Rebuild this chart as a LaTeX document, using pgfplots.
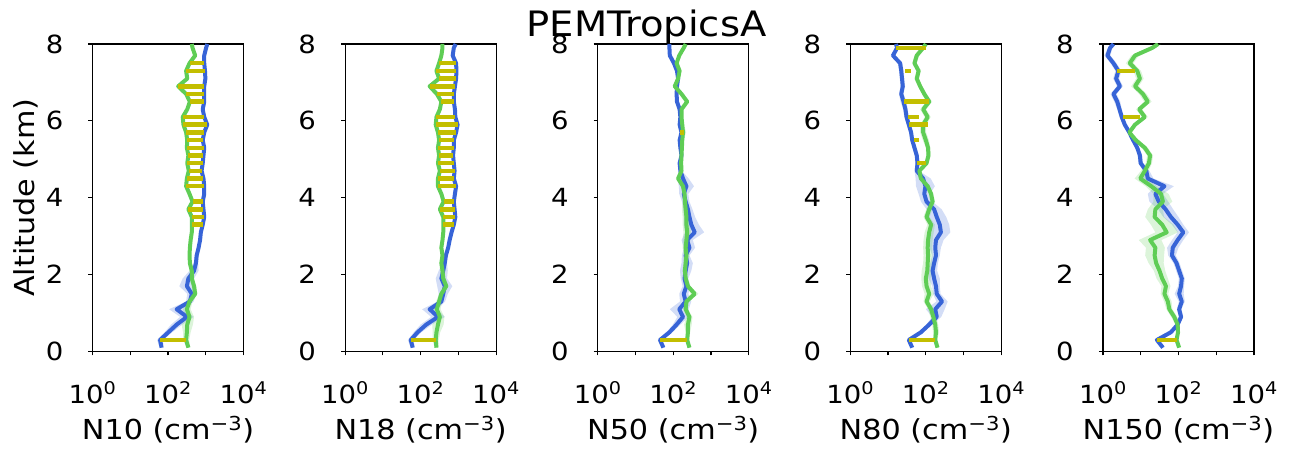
\documentclass[border=0pt]{standalone}
\usepackage{fontspec}
\setmainfont{DejaVu Sans}[FakeStretch=1.1]
\usepackage{pgfplots}
\usepackage{pgfplotstable}
\pgfplotsset{compat=1.18}

\definecolor{cblue}{RGB}{55,100,215}
\definecolor{cgreen}{RGB}{95,205,85}
\definecolor{cyel}{RGB}{195,190,0}

% columns: altitude (km), log10 of blue value, blue spread, log10 of green value, green spread
\pgfplotstableread{
alt b bs g gs
8.0 3.04 .03 2.63 .03
7.9 3.01 .03 2.65 .03
7.7 2.96 .03 2.72 .04
7.5 2.96 .03 2.57 .04
7.3 2.98 .03 2.48 .05
7.1 2.99 .03 2.51 .05
6.9 2.96 .04 2.27 .05
6.7 2.96 .03 2.48 .04
6.5 2.96 .03 2.58 .03
6.3 2.92 .03 2.51 .03
6.1 2.96 .03 2.39 .03
5.9 3.04 .03 2.41 .03
5.7 2.96 .03 2.48 .03
5.5 2.92 .03 2.51 .03
5.3 2.96 .03 2.50 .03
5.1 2.94 .03 2.54 .03
4.9 2.92 .03 2.51 .03
4.7 2.89 .03 2.55 .03
4.5 2.94 .03 2.50 .03
4.3 2.96 .03 2.48 .03
4.1 2.96 .03 2.57 .03
3.9 2.92 .03 2.65 .03
3.7 2.94 .03 2.54 .03
3.5 2.96 .03 2.63 .03
3.3 2.92 .03 2.63 .03
3.1 2.87 .03 2.63 .03
2.9 2.85 .04 2.60 .03
2.7 2.81 .04 2.58 .04
2.5 2.76 .05 2.57 .04
2.3 2.74 .06 2.58 .05
2.1 2.69 .12 2.63 .06
1.9 2.54 .15 2.63 .06
1.7 2.50 .20 2.69 .06
1.5 2.63 .12 2.72 .06
1.3 2.58 .10 2.57 .08
1.1 2.23 .20 2.50 .10
0.9 2.50 .18 2.57 .12
0.7 2.23 .15 2.51 .15
0.5 2.01 .10 2.50 .10
0.3 1.79 .08 2.48 .08
0.1 1.83 .05 2.54 .05
}\tA
\pgfplotstableread{
alt b bs g gs
8.0 2.93 .03 2.58 .03
7.9 2.88 .03 2.58 .03
7.7 2.85 .03 2.55 .04
7.5 2.94 .03 2.49 .04
7.3 2.95 .03 2.42 .05
7.1 2.94 .03 2.49 .05
6.9 2.91 .04 2.24 .05
6.7 2.88 .03 2.43 .04
6.5 2.88 .03 2.55 .03
6.3 2.91 .03 2.51 .03
6.1 2.92 .03 2.42 .03
5.9 2.98 .03 2.40 .03
5.7 2.94 .03 2.46 .03
5.5 2.88 .03 2.49 .03
5.3 2.88 .03 2.46 .03
5.1 2.86 .03 2.49 .03
4.9 2.88 .03 2.46 .03
4.7 2.90 .03 2.51 .03
4.5 2.88 .03 2.46 .03
4.3 2.94 .03 2.46 .03
4.1 2.91 .03 2.55 .03
3.9 2.88 .03 2.61 .03
3.7 2.90 .03 2.51 .03
3.5 2.92 .03 2.60 .03
3.3 2.88 .03 2.60 .03
3.1 2.82 .03 2.60 .03
2.9 2.77 .04 2.58 .03
2.7 2.73 .04 2.55 .04
2.5 2.67 .05 2.58 .05
2.3 2.64 .06 2.55 .05
2.1 2.60 .12 2.58 .06
1.9 2.55 .15 2.60 .06
1.7 2.64 .20 2.68 .06
1.5 2.60 .12 2.55 .06
1.3 2.55 .10 2.49 .08
1.1 2.24 .20 2.43 .10
0.9 2.46 .18 2.51 .12
0.7 2.15 .15 2.46 .15
0.5 1.92 .10 2.42 .10
0.3 1.74 .08 2.40 .08
0.1 1.79 .05 2.42 .05
}\tB
\pgfplotstableread{
alt b bs g gs
8.0 1.90 .03 2.33 .03
7.9 1.90 .03 2.28 .03
7.7 1.91 .03 2.16 .03
7.5 2.02 .03 2.09 .03
7.3 2.10 .03 2.17 .03
7.1 2.13 .03 2.13 .03
6.9 2.10 .04 2.04 .04
6.7 2.09 .04 2.22 .04
6.5 2.10 .03 2.37 .04
6.3 2.17 .03 2.22 .03
6.1 2.19 .03 2.22 .03
5.9 2.17 .03 2.24 .05
5.7 2.22 .04 2.26 .08
5.5 2.17 .03 2.24 .04
5.3 2.19 .03 2.23 .03
5.1 2.22 .03 2.22 .03
4.9 2.17 .03 2.21 .03
4.7 2.19 .04 2.22 .04
4.5 2.26 .15 2.13 .06
4.3 2.35 .20 2.26 .06
4.1 2.28 .12 2.30 .05
3.9 2.33 .10 2.31 .06
3.7 2.39 .12 2.33 .10
3.5 2.43 .15 2.35 .10
3.3 2.48 .20 2.35 .10
3.1 2.57 .25 2.37 .10
2.9 2.37 .15 2.35 .10
2.7 2.43 .15 2.33 .08
2.5 2.33 .10 2.35 .08
2.3 2.37 .15 2.33 .06
2.1 2.33 .15 2.31 .06
1.9 2.30 .10 2.33 .06
1.7 2.35 .10 2.39 .06
1.5 2.28 .12 2.57 .10
1.3 2.33 .15 2.35 .06
1.1 2.16 .25 2.33 .06
0.9 2.26 .15 2.43 .08
0.7 2.09 .10 2.39 .10
0.5 1.90 .08 2.39 .06
0.3 1.65 .06 2.37 .05
0.1 1.74 .04 2.43 .04
}\tC
\pgfplotstableread{
alt b bs g gs
8.0 1.21 .03 2.00 .04
7.9 1.24 .04 1.93 .05
7.7 1.13 .06 1.76 .06
7.5 1.32 .06 1.70 .06
7.3 1.35 .06 1.81 .06
7.1 1.37 .06 1.76 .06
6.9 1.39 .06 1.85 .06
6.7 1.35 .06 1.96 .06
6.5 1.41 .08 2.09 .08
6.3 1.46 .06 1.93 .08
6.1 1.49 .06 2.05 .08
5.9 1.55 .05 1.93 .08
5.7 1.61 .05 1.93 .08
5.5 1.64 .05 2.00 .08
5.3 1.70 .05 2.06 .06
5.1 1.76 .05 2.07 .06
4.9 1.78 .05 2.02 .05
4.7 1.76 .06 1.83 .06
4.5 1.93 .20 1.87 .06
4.3 1.99 .25 2.05 .06
4.1 1.96 .15 2.14 .06
3.9 2.02 .15 2.18 .06
3.7 2.22 .20 2.09 .08
3.5 2.29 .25 2.02 .08
3.3 2.37 .25 2.14 .10
3.1 2.40 .25 2.09 .12
2.9 2.27 .20 2.06 .12
2.7 2.25 .15 2.05 .12
2.5 2.27 .10 2.06 .12
2.3 2.22 .10 2.05 .12
2.1 2.18 .12 2.04 .15
1.9 2.22 .15 2.00 .12
1.7 2.27 .10 2.02 .12
1.5 2.29 .10 2.09 .12
1.3 2.43 .15 2.02 .08
1.1 2.25 .25 2.14 .08
0.9 2.29 .12 2.20 .08
0.7 2.09 .08 2.25 .08
0.5 1.87 .06 2.27 .08
0.3 1.55 .05 2.25 .05
0.1 1.64 .04 2.31 .04
}\tD
\pgfplotstableread{
alt b bs g gs
8.0 0.28 .05 1.46 .08
7.9 0.19 .06 1.31 .10
7.7 0.12 .08 0.85 .10
7.5 0.28 .08 0.71 .10
7.3 0.41 .08 0.91 .10
7.1 0.35 .08 0.98 .10
6.9 0.45 .08 0.85 .10
6.7 0.28 .08 1.06 .10
6.5 0.38 .08 1.19 .10
6.3 0.44 .06 0.96 .08
6.1 0.50 .06 1.11 .08
5.9 0.58 .05 0.85 .06
5.7 0.70 .05 0.70 .06
5.5 0.80 .05 0.87 .06
5.3 0.91 .05 1.11 .08
5.1 0.98 .06 1.25 .08
4.9 1.00 .06 1.22 .08
4.7 1.15 .08 1.11 .10
4.5 1.19 .15 0.99 .15
4.3 1.63 .25 1.28 .15
4.1 1.39 .20 1.54 .20
3.9 1.48 .25 1.59 .25
3.7 1.66 .20 1.39 .20
3.5 1.80 .20 1.37 .25
3.3 1.98 .15 1.57 .30
3.1 2.13 .15 1.69 .30
2.9 1.98 .15 1.25 .30
2.7 1.85 .15 1.39 .25
2.5 1.83 .10 1.37 .25
2.3 1.95 .08 1.41 .20
2.1 2.02 .08 1.50 .15
1.9 2.09 .08 1.57 .15
1.7 2.07 .08 1.67 .12
1.5 2.02 .12 1.63 .10
1.3 2.09 .08 1.72 .10
1.1 2.02 .06 1.76 .08
0.9 2.07 .06 1.89 .08
0.7 1.98 .05 1.98 .06
0.5 1.80 .05 1.99 .05
0.3 1.43 .04 1.95 .05
0.1 1.59 .04 2.02 .04
}\tE

% yellow bars: pairs of end points (altitude, log10 value), separated by nan rows
\pgfplotstableread{
alt x
7.5 2.57
7.5 2.96
nan 0
7.3 2.48
7.3 2.98
nan 0
6.9 2.27
6.9 2.96
nan 0
6.7 2.48
6.7 2.96
nan 0
6.5 2.58
6.5 2.96
nan 0
6.1 2.39
6.1 2.96
nan 0
5.9 2.41
5.9 3.04
nan 0
5.7 2.48
5.7 2.96
nan 0
5.5 2.51
5.5 2.92
nan 0
5.3 2.50
5.3 2.96
nan 0
5.1 2.54
5.1 2.94
nan 0
4.9 2.51
4.9 2.92
nan 0
4.7 2.55
4.7 2.89
nan 0
4.5 2.50
4.5 2.94
nan 0
4.3 2.48
4.3 2.96
nan 0
3.9 2.65
3.9 2.92
nan 0
3.7 2.54
3.7 2.94
nan 0
3.5 2.63
3.5 2.96
nan 0
3.3 2.63
3.3 2.92
nan 0
0.3 1.79
0.3 2.48
}\yA
\pgfplotstableread{
alt x
7.5 2.49
7.5 2.94
nan 0
7.3 2.42
7.3 2.95
nan 0
7.1 2.49
7.1 2.94
nan 0
6.9 2.24
6.9 2.91
nan 0
6.7 2.43
6.7 2.88
nan 0
6.5 2.55
6.5 2.88
nan 0
6.1 2.42
6.1 2.92
nan 0
5.9 2.40
5.9 2.98
nan 0
5.7 2.46
5.7 2.94
nan 0
5.5 2.49
5.5 2.88
nan 0
5.3 2.46
5.3 2.88
nan 0
5.1 2.49
5.1 2.86
nan 0
4.9 2.46
4.9 2.88
nan 0
4.7 2.51
4.7 2.90
nan 0
4.5 2.46
4.5 2.88
nan 0
4.3 2.46
4.3 2.94
nan 0
3.9 2.61
3.9 2.88
nan 0
3.7 2.51
3.7 2.90
nan 0
3.5 2.60
3.5 2.92
nan 0
3.3 2.60
3.3 2.88
nan 0
0.3 1.74
0.3 2.40
}\yB
\pgfplotstableread{
alt x
5.7 2.17
5.7 2.28
nan 0
0.3 1.65
0.3 2.37
}\yC
\pgfplotstableread{
alt x
7.9 1.21
7.9 2.00
nan 0
7.3 1.46
7.3 1.61
nan 0
6.5 1.43
6.5 2.09
nan 0
6.1 1.52
6.1 1.81
nan 0
5.9 1.56
5.9 2.07
nan 0
5.5 1.70
5.5 1.81
nan 0
4.9 1.76
4.9 2.00
nan 0
0.3 1.55
0.3 2.25
}\yD
\pgfplotstableread{
alt x
7.3 0.37
7.3 0.85
nan 0
6.1 0.54
6.1 0.98
nan 0
0.3 1.43
0.3 1.95
}\yE

\newcommand{\ts}{\fontsize{25}{30}\selectfont}
\newcommand{\ls}{\fontsize{27.5}{33}\selectfont}

% x axis: log10 of the number concentration (decades 0..4)
\newcommand{\panel}[5]{%
\begin{axis}[
    scale only axis, width=151pt, height=307.5pt,
    anchor=south west, at={(#1pt,105.5pt)},
    xmin=0, xmax=4, ymin=0, ymax=8,
    xtick={0,1,2,3,4},
    xticklabels={10\textsuperscript{0},,10\textsuperscript{2},,10\textsuperscript{4}},
    ytick={0,2,4,6,8}, yticklabels={0,2,4,6,8},
    tick align=outside, tick pos=left,
    major tick length=4pt,
    tick style={line width=1.2pt, black},
    axis line style={line width=1.2pt, black},
    tick label style={font=\ts},
    xticklabel style={anchor=base, inner sep=0pt, yshift=-48.5pt},
    yticklabel style={anchor=east, inner sep=0pt, xshift=-25pt},
    xlabel style={at={(axis description cs:0.5,-0.2878)}, anchor=base, inner sep=0pt, font=\ls},
    ylabel style={at={(axis description cs:-0.3808,0.5)}, anchor=base, inner sep=0pt, font=\ls},
    xlabel={#4}, #5]
  % bands: stacked (lower edge, then width), filled between consecutive stacked plots
  \addplot[draw=none, stack plots=x, forget plot] table[x expr=\thisrow{b}-\thisrow{bs}, y=alt]{#2};
  \addplot[draw=none, fill=cblue, fill opacity=0.22, stack plots=x, forget plot] table[x expr=2*\thisrow{bs}, y=alt]{#2} \closedcycle;
  \addplot[draw=none, stack plots=x, forget plot] table[x expr=\thisrow{g}-\thisrow{gs}-\thisrow{b}-\thisrow{bs}, y=alt]{#2};
  \addplot[draw=none, fill=cgreen, fill opacity=0.22, stack plots=x, forget plot] table[x expr=2*\thisrow{gs}, y=alt]{#2} \closedcycle;
  \addplot[cblue, line width=4pt, line join=round, mark=none] table[x=b, y=alt]{#2};
  \addplot[cgreen, line width=4pt, line join=round, mark=none] table[x=g, y=alt]{#2};
  \addplot[cyel, line width=4.5pt, mark=none, unbounded coords=jump] table[x=x, y=alt]{#3};
\end{axis}}

\begin{document}
\begin{tikzpicture}
\path (0,0) rectangle (1293pt,457pt);
\panel{92.5}{\tA}{\yA}{N10 (cm\textsuperscript{−3})}{ylabel={Altitude (km)}}
\panel{345.1}{\tB}{\yB}{N18 (cm\textsuperscript{−3})}{}
\panel{597.7}{\tC}{\yC}{N50 (cm\textsuperscript{−3})}{}
\panel{850.3}{\tD}{\yD}{N80 (cm\textsuperscript{−3})}{}
\panel{1102.9}{\tE}{\yE}{N150 (cm\textsuperscript{−3})}{}
\node[anchor=base, font=\fontsize{35}{42}\selectfont] at (646.5pt,420pt) {PEMTropicsA};
\end{tikzpicture}
\end{document}
